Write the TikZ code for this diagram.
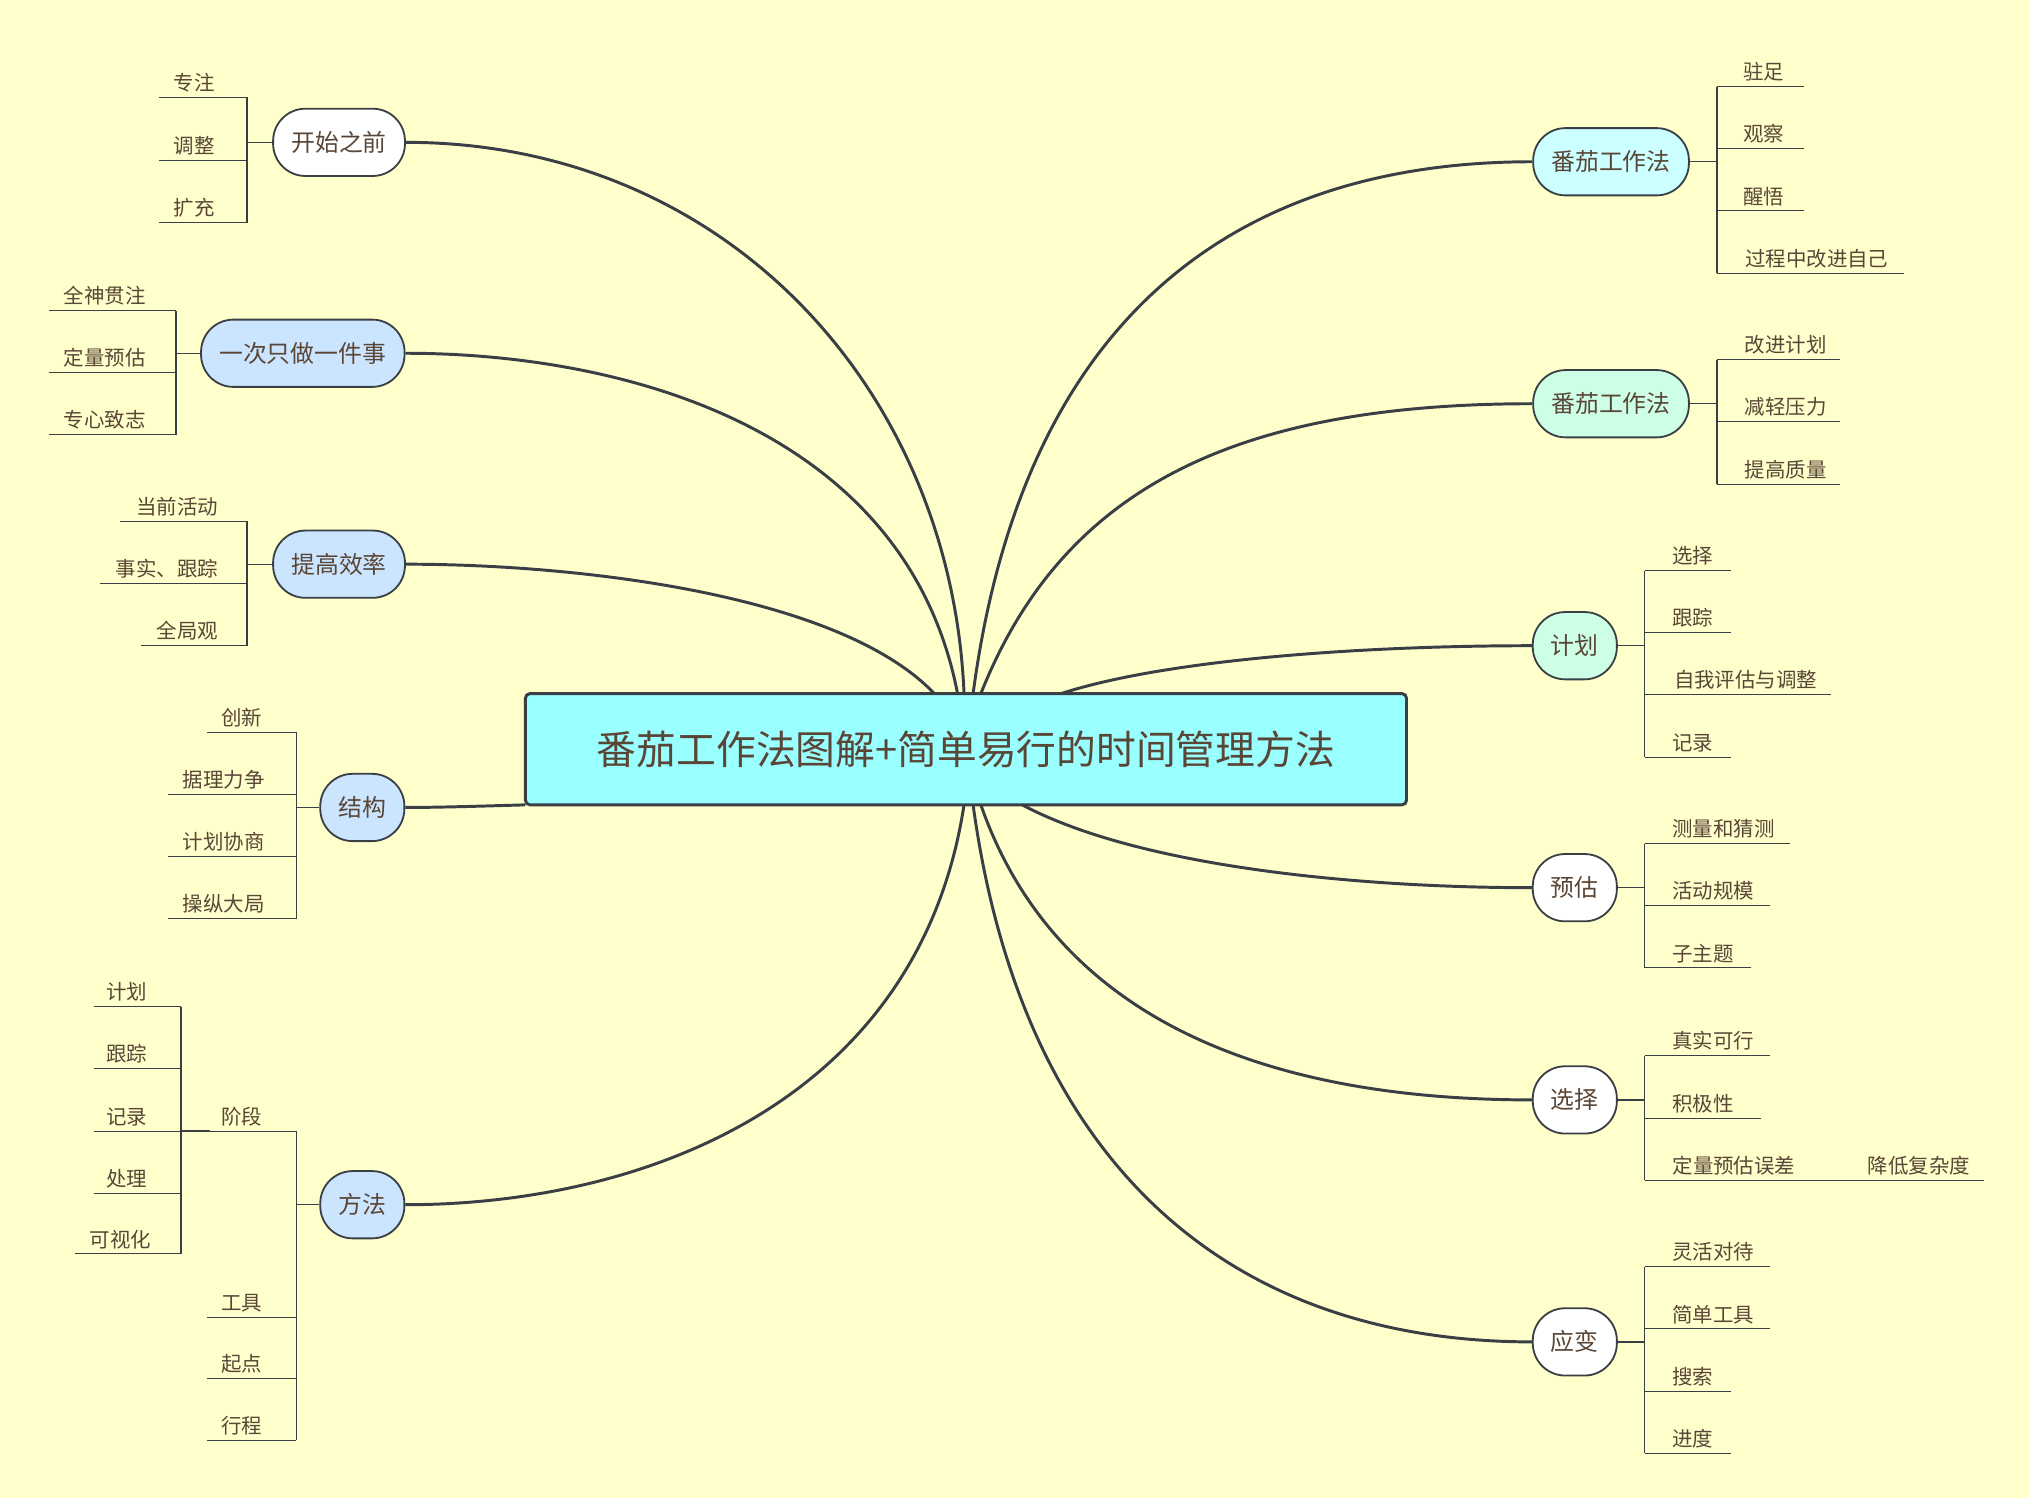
\documentclass[tikz,border=0pt]{standalone}
\usepackage{fontspec}
\setmainfont{Noto Sans CJK SC}
\usetikzlibrary{positioning}
\definecolor{bgc}{HTML}{FFFFCC}
\definecolor{linec}{HTML}{3A3F45}
\definecolor{txtc}{HTML}{5A4636}
\definecolor{titlec}{HTML}{99FFFF}
\definecolor{bluec}{HTML}{CCE5FF}
\definecolor{cyanc}{HTML}{CCFFFF}
\definecolor{greenc}{HTML}{CCFFE5}
\newcommand{\leaf}[6]{% name, text x, line x1, line x2, line y, text
  \node[leaf] (#1) at (#2,#5) {#6};
  \draw[thin] (#3,#5) -- (#4,#5);}
\begin{document}
\begin{tikzpicture}[x=0.02cm,y=-0.02cm,line width=0.6pt,draw=linec,text=txtc]

	\tikzstyle{topic}=[draw=linec,line width=0.8pt,rounded corners=0.5cm,minimum height=1.04cm,inner xsep=8pt,font=\fontsize{10.5}{12}\selectfont]
	\tikzstyle{leaf}=[anchor=south,inner sep=2pt,font=\fontsize{9}{10}\selectfont]
	\tikzstyle{branch}=[line width=1.3pt]
	% background
	\fill[bgc] (0,0) rectangle (1568,1158);

	% central topic
	\node[draw=linec,line width=1.3pt,fill=titlec,rounded corners=2pt,minimum width=13.62cm,minimum height=1.72cm,font=\fontsize{17.5}{20}\selectfont] (title) at (746.5,579) {番茄工作法图解+简单易行的时间管理方法};

	% left topics
	\node[topic,fill=white]  (start)  at (262,110) {开始之前};
	\node[topic,fill=bluec]  (single) at (234,273) {一次只做一件事};
	\node[topic,fill=bluec]  (effic)  at (262,436) {提高效率};
	\node[topic,fill=bluec]  (struct) at (280,624) {结构};
	\node[topic,fill=bluec]  (method) at (280,931) {方法};
	% right topics
	\node[topic,fill=cyanc]  (tomA)   at (1245,125) {番茄工作法};
	\node[topic,fill=greenc] (tomB)   at (1245,312) {番茄工作法};
	\node[topic,fill=greenc] (plan)   at (1217,499) {计划};
	\node[topic,fill=white]  (estim)  at (1217,686) {预估};
	\node[topic,fill=white]  (choose) at (1217,850) {选择};
	\node[topic,fill=white]  (adapt)  at (1217,1037) {应变};

	% branch ends on the central topic
	\coordinate (tA) at (745,536);  \coordinate (tB) at (740,536);
	\coordinate (tC) at (722,536);  \coordinate (tD) at (406,622);
	\coordinate (tE) at (745,622);  \coordinate (tF) at (752,536);
	\coordinate (tG) at (758,536);  \coordinate (tH) at (820,536);
	\coordinate (tI) at (790,622);  \coordinate (tJ) at (758,622);
	\coordinate (tK) at (752,622);

	% branches
	\draw[branch] (tA) .. controls (735,300) and (560,110) .. (start.east);
	\draw[branch] (tB) .. controls (700,330) and (480,273) .. (single.east);
	\draw[branch] (tC) .. controls (650,460) and (450,436) .. (effic.east);
	\draw[branch] (tD) .. controls (370,623) and (340,624) .. (struct.east);
	\draw[branch] (tE) .. controls (710,850) and (500,931) .. (method.east);
	\draw[branch] (tF) .. controls (790,250) and (950,125) .. (tomA.west);
	\draw[branch] (tG) .. controls (820,380) and (950,312) .. (tomB.west);
	\draw[branch] (tH) .. controls (900,510) and (1050,499) .. (plan.west);
	\draw[branch] (tI) .. controls (880,670) and (1050,686) .. (estim.west);
	\draw[branch] (tJ) .. controls (820,800) and (1000,850) .. (choose.west);
	\draw[branch] (tK) .. controls (790,900) and (950,1037) .. (adapt.west);

	% 开始之前
	\leaf{s1}{150}{123}{191}{75}{专注}
	\leaf{s2}{150}{123}{191}{124}{调整}
	\leaf{s3}{150}{123}{191}{172}{扩充}
	\draw (start.west) -- (191,110);  \draw (191,75) -- (191,172);

	% 一次只做一件事
	\leaf{o1}{81}{38}{136}{240}{全神贯注}
	\leaf{o2}{81}{38}{136}{288}{定量预估}
	\leaf{o3}{81}{38}{136}{336}{专心致志}
	\draw (single.west) -- (136,273);  \draw (136,240) -- (136,336);

	% 提高效率
	\leaf{e1}{137}{93}{191}{403}{当前活动}
	\leaf{e2}{129}{77}{191}{451}{事实、跟踪}
	\leaf{e3}{145}{109}{191}{499}{全局观}
	\draw (effic.west) -- (191,436);  \draw (191,403) -- (191,499);

	% 结构
	\leaf{j1}{187}{160}{229}{566}{创新}
	\leaf{j2}{173}{130}{229}{614}{据理力争}
	\leaf{j3}{173}{130}{229}{662}{计划协商}
	\leaf{j4}{173}{130}{229}{710}{操纵大局}
	\draw (struct.west) -- (229,624);  \draw (229,566) -- (229,710);

	% 方法
	\leaf{m1}{187}{140}{229}{874}{阶段}
	\leaf{m2}{187}{160}{229}{1018}{工具}
	\leaf{m3}{187}{160}{229}{1065}{起点}
	\leaf{m4}{187}{160}{229}{1113}{行程}
	\draw (method.west) -- (229,931);  \draw (229,874) -- (229,1113);
	\leaf{p1}{98}{73}{140}{778}{计划}
	\leaf{p2}{98}{73}{140}{826}{跟踪}
	\leaf{p3}{98}{73}{140}{874}{记录}
	\leaf{p4}{98}{73}{140}{922}{处理}
	\leaf{p5}{93}{58}{140}{969}{可视化}
	\draw (140,778) -- (140,969);  \draw (140,874) -- (162,874);

	% 番茄工作法 (1)
	\leaf{a1}{1363}{1327}{1394}{67}{驻足}
	\leaf{a2}{1363}{1327}{1394}{115}{观察}
	\leaf{a3}{1363}{1327}{1394}{163}{醒悟}
	\leaf{a4}{1404}{1327}{1471}{211}{过程中改进自己}
	\draw (tomA.east) -- (1327,125);  \draw (1327,67) -- (1327,211);

	% 番茄工作法 (2)
	\leaf{b1}{1380}{1327}{1422}{278}{改进计划}
	\leaf{b2}{1380}{1327}{1422}{326}{减轻压力}
	\leaf{b3}{1380}{1327}{1422}{374}{提高质量}
	\draw (tomB.east) -- (1327,312);  \draw (1327,278) -- (1327,374);

	% 计划
	\leaf{c1}{1308}{1271}{1338}{441}{选择}
	\leaf{c2}{1308}{1271}{1338}{489}{跟踪}
	\leaf{c3}{1349}{1271}{1415}{537}{自我评估与调整}
	\leaf{c4}{1308}{1271}{1338}{585}{记录}
	\draw (plan.east) -- (1271,499);  \draw (1271,441) -- (1271,585);

	% 预估
	\leaf{d1}{1332}{1271}{1383}{652}{测量和猜测}
	\leaf{d2}{1324}{1271}{1368}{700}{活动规模}
	\leaf{d3}{1316}{1271}{1353}{748}{子主题}
	\draw (estim.east) -- (1271,686);  \draw (1271,652) -- (1271,748);

	% 选择
	\leaf{x1}{1324}{1271}{1368}{816}{真实可行}
	\leaf{x2}{1316}{1271}{1361}{864}{积极性}
	\leaf{x3}{1340}{1271}{1410}{912}{定量预估误差}
	\leaf{x4}{1483}{1410}{1533}{912}{降低复杂度}
	\draw (choose.east) -- (1271,850);  \draw (1271,816) -- (1271,912);

	% 应变
	\leaf{y1}{1324}{1271}{1368}{979}{灵活对待}
	\leaf{y2}{1324}{1271}{1368}{1027}{简单工具}
	\leaf{y3}{1308}{1271}{1338}{1075}{搜索}
	\leaf{y4}{1308}{1271}{1338}{1123}{进度}
	\draw (adapt.east) -- (1271,1037);  \draw (1271,979) -- (1271,1123);
\end{tikzpicture}
\end{document}
